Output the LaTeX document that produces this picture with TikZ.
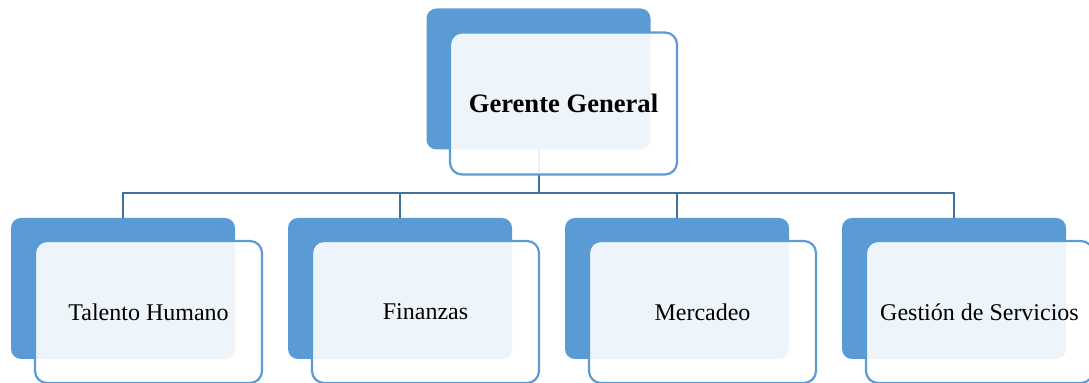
\documentclass[tikz,border=0pt]{standalone}
\usepackage{fontspec}
\setmainfont{Liberation Serif}
\usepackage{xcolor}

\definecolor{boxblue}{HTML}{5B9BD5}
\definecolor{linkblue}{HTML}{41719C}

\tikzset{
    backbox/.style={fill=boxblue, rounded corners=5pt, minimum width=112pt, minimum height=70.5pt, inner sep=0pt},
    frontbox/.style={draw=boxblue, line width=1.1pt, fill=white, fill opacity=0.9, text opacity=1, rounded corners=6pt, minimum width=113.5pt, minimum height=71pt, inner sep=0pt, font=\fontsize{12}{14}\selectfont},
    link/.style={draw=linkblue, line width=1pt}
}

\begin{document}
\begin{tikzpicture}[x=0.5pt,y=0.5pt]
    \useasboundingbox (0,0) rectangle (1089,383);
    \node[backbox] (gg-b) at (538.5,304) {};
    \foreach \i/\name in {0/th,1/fi,2/me,3/gs}
        \node[backbox] (\name-b) at (123+277*\i,94.5) {};
    \foreach \name in {th,fi,me,gs}
        \draw[link] (gg-b.south) -- ++(0,-43.5) -| (\name-b.north);
    \node[frontbox, font=\bfseries\fontsize{13.3}{16}\selectfont] (gg) at (563.5,279.5) {Gerente General};
    \foreach \i/\name/\txt in {0/th/Talento Humano,1/fi/Finanzas,2/me/Mercadeo,3/gs/Gestión de Servicios}
        \node[frontbox] (\name) at (148.5+277*\i,71) {\txt};
\end{tikzpicture}
\end{document}
